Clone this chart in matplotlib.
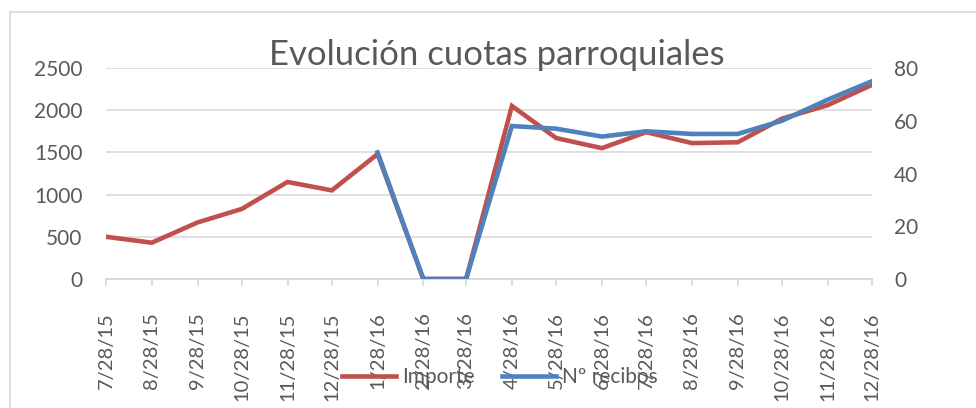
import datetime as dt
import numpy as np
import matplotlib
matplotlib.use("Agg")
import matplotlib.pyplot as plt
import matplotlib.dates as mdates
from matplotlib.lines import Line2D
from matplotlib.ticker import FuncFormatter

#############################################
# DATOS
#############################################

fechas = [dt.date(2015, m, 28) for m in range(7, 13)] + [dt.date(2016, m, 28) for m in range(1, 13)]
importe = [500, 430, 670, 830, 1150, 1050, 1480, 0, 0, 2050, 1670, 1550, 1740, 1610, 1620, 1900, 2060, 2300]
recibos = [np.nan, np.nan, np.nan, np.nan, np.nan, np.nan, 48, 0, 0, 58, 57, 54, 56, 55, 55, 60, 68, 75]

titulo = "Evolución cuotas parroquiales"
etiquetas = ["Importe", "Nº recibos"]

ROJO = "#C0504D"
AZUL = "#4F81BD"
GRIS_TXT = "#595959"
GRIS_LIN = "#D9D9D9"

plt.rcParams["font.family"] = ["Lato", "DejaVu Sans"]

#############################################
# GRÁFICO
#############################################

fig = plt.figure(figsize=(9.76, 4.08), dpi=100)
ax = fig.add_axes([106 / 976, 1 - 279 / 408, (872 - 106) / 976, (279 - 68) / 408])
ax2 = ax.twinx()

x = mdates.date2num(fechas)
l1, = ax.plot(x, importe, color=ROJO, lw=3.3, solid_joinstyle="miter", zorder=3)
l2, = ax2.plot(x, recibos, color=AZUL, lw=3.3, solid_joinstyle="miter", zorder=4)

ax.set_xlim(x[0], x[-1])
ax.set_ylim(0, 2500)
ax2.set_ylim(0, 80)
ax.set_yticks(range(0, 2501, 500))
ax2.set_yticks(range(0, 81, 20))
ax.set_xticks(x)
ax.xaxis.set_major_formatter(FuncFormatter(
    lambda v, p: "{}/{}/{}".format(mdates.num2date(v).month, mdates.num2date(v).day, mdates.num2date(v).strftime("%y"))))

ax.grid(axis="y", color=GRIS_LIN, lw=1.2)
ax.set_axisbelow(True)
for a in (ax, ax2):
    for s in ("top", "left", "right"):
        a.spines[s].set_visible(False)
    a.spines["bottom"].set_color(GRIS_LIN)
    a.spines["bottom"].set_linewidth(1.2)

ax.tick_params(axis="y", length=0, pad=17, labelsize=15, labelcolor=GRIS_TXT)
ax2.tick_params(axis="y", length=0, pad=16, labelsize=15, labelcolor=GRIS_TXT)
ax.tick_params(axis="x", length=5, width=1.2, color=GRIS_LIN, pad=19, labelsize=14.5,
               labelcolor=GRIS_TXT, labelrotation=90)

fig.text(497 / 976, 1 - 55 / 408, titulo, ha="center", va="center", fontsize=25, color=GRIS_TXT)

fig.legend([l1, l2], etiquetas, loc="center", bbox_to_anchor=(500 / 976, 1 - 377 / 408), ncol=2,
           frameon=False, fontsize=15, handlelength=2.6, columnspacing=1.3, handletextpad=0.3,
           labelcolor=GRIS_TXT)

# borde del área del gráfico
fig.add_artist(Line2D([10 / 976, 10 / 976], [0, 1 - 12 / 408], color=GRIS_LIN, lw=1.2))
fig.add_artist(Line2D([10 / 976, 1], [1 - 12 / 408, 1 - 12 / 408], color=GRIS_LIN, lw=1.2))

fig.savefig("out.png", dpi=100)
